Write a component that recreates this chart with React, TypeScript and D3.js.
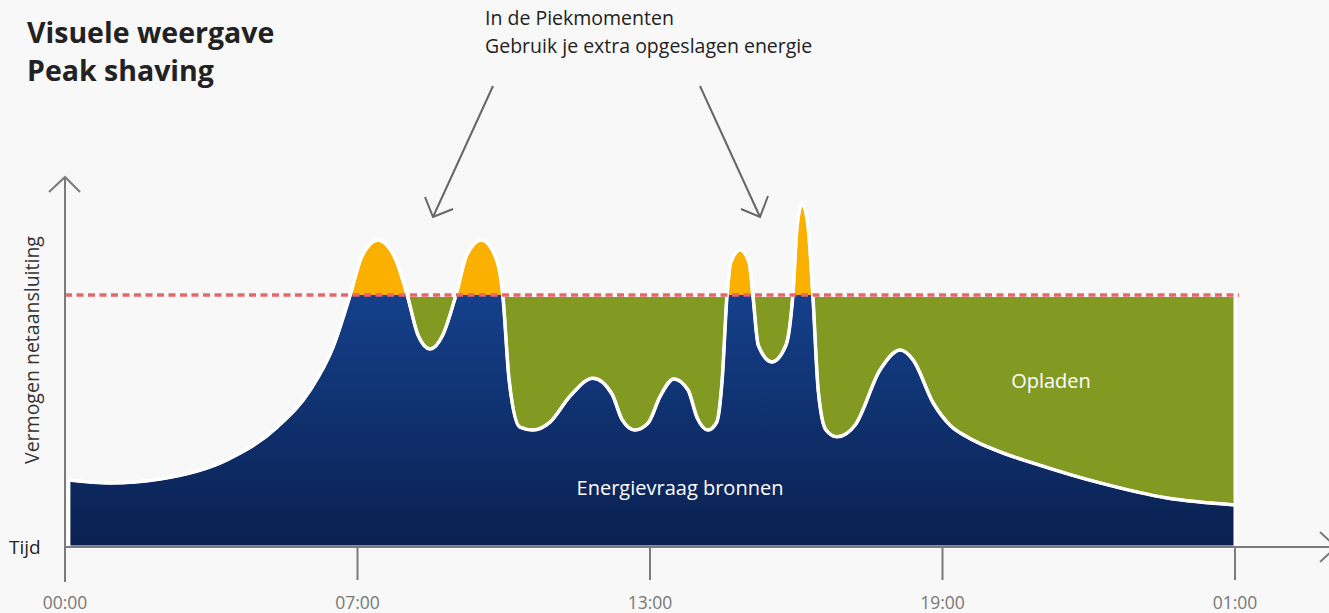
import * as d3 from "d3"

// x in tick-slot units (0..24 spans 00:00 .. 01:00), y in demand units (cap = 70)
const timeValues = [
  0.08, 0.92, 1.95, 3.32, 4.35, 5.03, 5.5, 5.85, 6.09, 6.42, 6.77, 7.02, 7.24, 7.49, 7.75, 8.02,
  8.25, 8.55, 8.84, 8.98, 9.11, 9.33, 9.6, 9.95, 10.36, 10.83, 11.22, 11.43, 11.69, 11.96, 12.21,
  12.49, 12.78, 12.97, 13.19, 13.37, 13.48, 13.58, 13.66, 13.85, 14.03, 14.11, 14.22, 14.5, 14.79,
  14.93, 15.02, 15.07, 15.12, 15.18, 15.24, 15.34, 15.45, 15.61, 15.84, 16.21, 16.72, 17.13, 17.4,
  17.81, 18.15, 18.5, 19.18, 19.86, 21.23, 22.61, 24,
]
const demandValues = [
  18.6, 17.8, 18.9, 24.2, 33.3, 43.6, 55.6, 70, 80.8, 85.3, 80.3, 70, 58.9, 55, 58.9, 70,
  81.4, 85.3, 80.3, 70, 46.4, 33.3, 32.5, 34.7, 41.9, 46.9, 42.5, 35.3, 32.5, 34.4, 41.9,
  46.7, 43.6, 35.8, 32.5, 34.7, 46.4, 70, 79.2, 82.5, 79.2, 70, 56.1, 51.4, 56.1,
  70, 89.4, 93.9, 95.6, 93.9, 89.4, 70, 43.6, 32.5, 30.6, 33.9, 49.2, 54.7, 51.9,
  40, 33.9, 30.6, 26.4, 23.3, 17.8, 13.6, 11.7,
]
const capValue = 70
const chargeStart = 5.85
const tickPositions = [0, 6, 12, 18, 24]
const tickLabels = ["00:00", "07:00", "13:00", "19:00", "01:00"]

const W = 1329
const H = 613
const FONT = "'Open Sans', 'Noto Sans', sans-serif"

export default function App() {
  const x = d3.scaleLinear().domain([0, 24]).range([65, 1235])
  const y = d3.scaleLinear().domain([0, 100]).range([547, 187])

  const pts = timeValues.map((t, i) => ({ t, v: demandValues[i] }))

  const area = d3
    .area<{ t: number; v: number }>()
    .x((d) => x(d.t))
    .y0(y(0))
    .y1((d) => y(d.v))
    .curve(d3.curveMonotoneX)

  const line = d3
    .line<{ t: number; v: number }>()
    .x((d) => x(d.t))
    .y((d) => y(d.v))
    .curve(d3.curveMonotoneX)

  const capY = y(capValue)
  const x0 = x(0)
  const xEnd = x(24)
  const base = y(0)
  const lastPt = pts[pts.length - 1]

  const axisColor = "#7b7b7b"

  return (
    <svg
      width={W}
      height={H}
      style={{ position: "absolute", left: 0, top: 0, background: "#f8f8f8" }}
    >
      <defs>
        <linearGradient id="blueGrad" gradientUnits="userSpaceOnUse" x1="0" y1={y(90)} x2="0" y2={base}>
          <stop offset="0" stopColor="#17499b" />
          <stop offset="1" stopColor="#0a2050" />
        </linearGradient>
        <clipPath id="below">
          <rect x={0} y={capY} width={W} height={H - capY} />
        </clipPath>
        <clipPath id="above">
          <rect x={0} y={0} width={W} height={capY} />
        </clipPath>
      </defs>

      {/* title */}
      <text x={27} y={43} fontFamily={FONT} fontWeight={700} fontSize={28.5} fill="#222">
        Visuele weergave
      </text>
      <text x={27} y={81} fontFamily={FONT} fontWeight={700} fontSize={28.5} fill="#222">
        Peak shaving
      </text>

      {/* annotation */}
      <text x={485} y={25} fontFamily={FONT} fontSize={19.5} fill="#222">
        In de Piekmomenten
      </text>
      <text x={485} y={53} fontFamily={FONT} fontSize={19.5} fill="#222">
        Gebruik je extra opgeslagen energie
      </text>
      <g stroke="#666" strokeWidth={2} fill="none">
        <line x1={493} y1={86} x2={433} y2={217} />
        <polyline points={`425,197 433,217 453,209`} />
        <line x1={700} y1={86} x2={760} y2={217} />
        <polyline points={`741,209 760,217 768,196`} />
      </g>

      {/* charging zone */}
      <rect
        x={x(chargeStart)}
        y={capY + 2}
        width={xEnd - x(chargeStart)}
        height={base - capY - 2}
        fill="#839a22"
      />
      <line x1={xEnd} y1={capY + 2} x2={xEnd} y2={y(lastPt.v)} stroke="#fff" strokeWidth={3} />

      {/* demand */}
      <path d={area(pts) ?? ""} fill="url(#blueGrad)" clipPath="url(#below)" />
      <path d={area(pts) ?? ""} fill="#fbb000" clipPath="url(#above)" />
      <path d={area(pts) ?? ""} fill="none" stroke="#fff" strokeWidth={3} strokeLinejoin="round" />
      <path d={line(pts) ?? ""} fill="none" stroke="#fff" strokeWidth={3.5} />

      {/* cap line */}
      <line
        x1={x0}
        y1={capY}
        x2={xEnd + 4}
        y2={capY}
        stroke="#e8656a"
        strokeWidth={3.5}
        strokeDasharray="7 4.5"
      />

      {/* axes */}
      <g stroke={axisColor} strokeWidth={2} fill="none">
        <line x1={x0} y1={base} x2={1336} y2={base} />
        <line x1={x0} y1={177} x2={x0} y2={582} />
        <polyline points={`${x0 - 16},192 ${x0},177 ${x0 + 15},192`} />
        <polyline points={`1320,532 1336,547 1320,562`} />
        {tickPositions.slice(1).map((t) => (
          <line key={t} x1={x(t)} y1={base} x2={x(t)} y2={580} />
        ))}
      </g>
      {tickPositions.map((t, i) => (
        <text
          key={t}
          x={x(t)}
          y={609}
          textAnchor="middle"
          fontFamily={FONT}
          fontSize={17.5}
          fill="#777"
        >
          {tickLabels[i]}
        </text>
      ))}
      <text x={9} y={554} fontFamily={FONT} fontSize={19} fill="#222">
        Tijd
      </text>
      <text
        transform={`translate(39, 350) rotate(-90)`}
        textAnchor="middle"
        fontFamily={FONT}
        fontSize={19.5}
        fill="#333"
      >
        Vermogen netaansluiting
      </text>

      {/* labels */}
      <text x={1051} y={388} textAnchor="middle" fontFamily={FONT} fontSize={20} fill="#fff">
        Opladen
      </text>
      <text x={680} y={495} textAnchor="middle" fontFamily={FONT} fontSize={20} fill="#fff">
        Energievraag bronnen
      </text>
    </svg>
  )
}
